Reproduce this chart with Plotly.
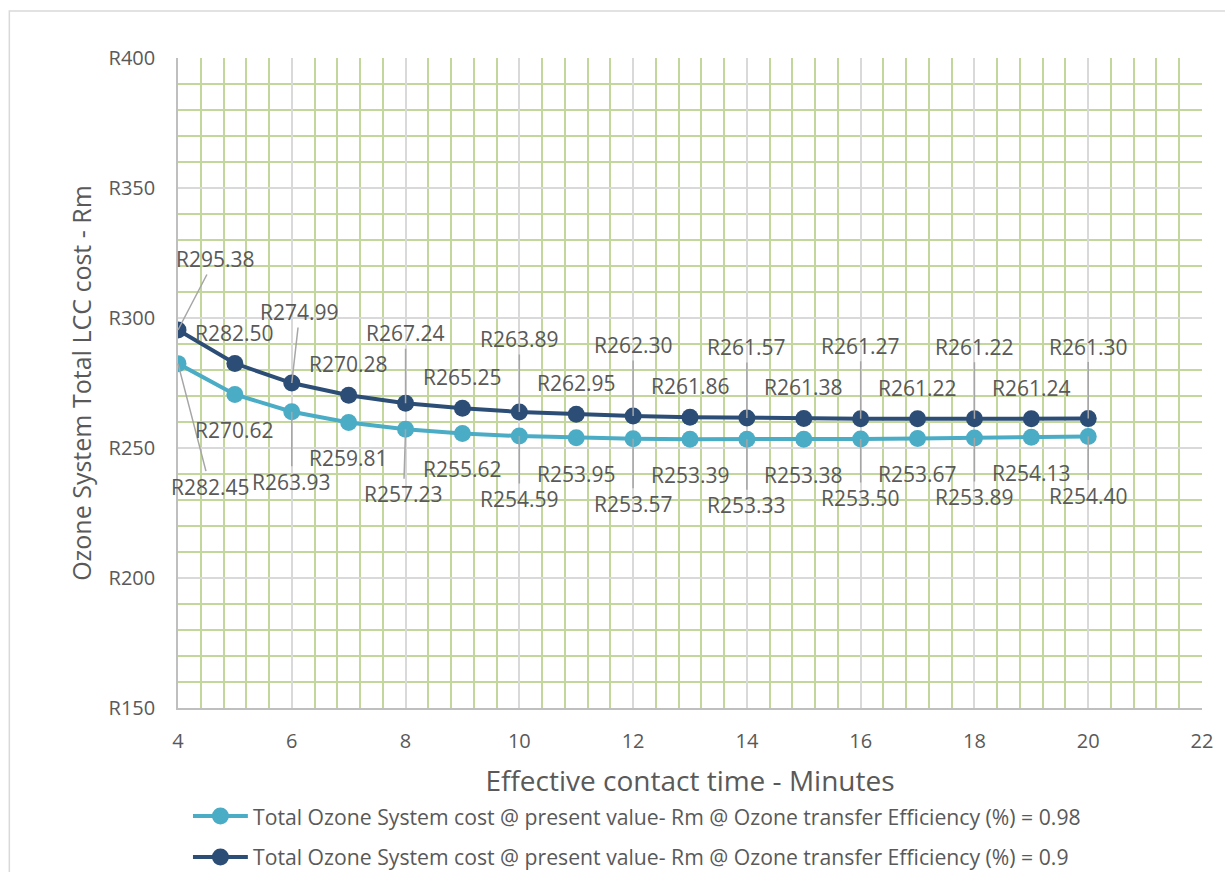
import plotly.graph_objects as go

# Effective contact time (minutes)
contact_time = list(range(4, 21))

# Total ozone system cost @ present value (Rm)
cost_eff_098 = [282.45, 270.62, 263.93, 259.81, 257.23, 255.62, 254.59, 253.95, 253.57,
                253.39, 253.33, 253.38, 253.50, 253.67, 253.89, 254.13, 254.40]
cost_eff_090 = [295.38, 282.50, 274.99, 270.28, 267.24, 265.25, 263.89, 262.95, 262.30,
                261.86, 261.57, 261.38, 261.27, 261.22, 261.22, 261.24, 261.30]

name_098 = "Total Ozone System cost @ present value- Rm @ Ozone transfer Efficiency (%) = 0.98"
name_090 = "Total Ozone System cost @ present value- Rm @ Ozone transfer Efficiency (%) = 0.9"

y_ticks = [150, 200, 250, 300, 350, 400]
x_ticks = [4, 6, 8, 10, 12, 14, 16, 18, 20, 22]

LIGHT = "#4BACC6"
DARK = "#2C4D75"
TEXT = "#595959"
FONT = "Open Sans"

# label placement: leader-line offsets for every other point, plain shifts for the rest
dark_leader = [(37, -71), (8, -71), (0, -70), (0, -73), (0, -71), (0, -71), (0, -73), (0, -72), (0, -72)]
light_leader = [(32, 123), (0, 70), (-2, 65), (0, 63), (0, 65), (0, 66), (0, 59), (0, 59), (0, 59)]
dark_shift = 31
light_shift = -36

L, R, T, B = 178, 21, 58, 164
W, H = 1225, 872
pw, ph = W - L - R, H - T - B


def px_x(p):
    return (p - L) / pw


def px_y(p):
    return (H - B - p) / ph


fig = go.Figure()
fig.add_trace(go.Scatter(x=contact_time, y=cost_eff_098, name=name_098, mode="lines+markers",
                         line=dict(color=LIGHT, width=4), marker=dict(color=LIGHT, size=17)))
fig.add_trace(go.Scatter(x=contact_time, y=cost_eff_090, name=name_090, mode="lines+markers",
                         line=dict(color=DARK, width=4), marker=dict(color=DARK, size=17)))

annotations = []
for series, leader, shift in ((cost_eff_090, dark_leader, dark_shift),
                              (cost_eff_098, light_leader, light_shift)):
    for i, (xv, yv) in enumerate(zip(contact_time, series)):
        text = f"R{yv:.2f}"
        if i % 2 == 0:
            ax, ay = leader[i // 2]
            annotations.append(dict(x=xv, y=yv, text=text, showarrow=True, ax=ax, ay=ay,
                                    arrowhead=0, arrowwidth=1.5, arrowcolor="#A6A6A6",
                                    standoff=0, startstandoff=0,
                                    font=dict(family=FONT, size=21, color=TEXT)))
        else:
            annotations.append(dict(x=xv, y=yv, text=text, showarrow=False, yshift=shift,
                                    font=dict(family=FONT, size=21, color=TEXT)))

# legend drawn below the plot: sample line with a marker, then the series name
shapes = [dict(type="rect", xref="paper", yref="paper",
               x0=px_x(9), x1=px_x(1240), y0=px_y(890), y1=px_y(11),
               line=dict(color="#D9D9D9", width=1.5), layer="below")]
for row_y, color, name in ((816, LIGHT, name_098), (857, DARK, name_090)):
    shapes.append(dict(type="line", xref="paper", yref="paper",
                       x0=px_x(193), x1=px_x(248), y0=px_y(row_y), y1=px_y(row_y),
                       line=dict(color=color, width=4)))
    shapes.append(dict(type="circle", xref="paper", yref="paper",
                       xsizemode="pixel", ysizemode="pixel",
                       xanchor=px_x(220.5), yanchor=px_y(row_y),
                       x0=-8.5, x1=8.5, y0=-8.5, y1=8.5,
                       fillcolor=color, line=dict(color=color, width=0)))
    annotations.append(dict(xref="paper", yref="paper", x=px_x(251), y=px_y(row_y),
                            xanchor="left", yanchor="middle", showarrow=False, text=name,
                            font=dict(family=FONT, size=21.2, color=TEXT)))

fig.update_layout(
    width=W, height=H,
    margin=dict(l=L, r=R, t=T, b=B),
    paper_bgcolor="white", plot_bgcolor="white",
    font=dict(family=FONT, color=TEXT),
    showlegend=False,
    annotations=annotations,
    shapes=shapes,
)

fig.update_xaxes(
    range=[4, 22], tickvals=x_ticks, ticktext=[str(v) for v in x_ticks],
    showgrid=True, gridcolor="#D9D9D9", gridwidth=1.5,
    minor=dict(dtick=0.4, tick0=4, showgrid=True, gridcolor="#C3D69B", gridwidth=1.5),
    showline=True, linecolor="#BFBFBF", linewidth=1.5, mirror=False,
    ticks="", ticklabelstandoff=14, zeroline=False,
    tickfont=dict(family=FONT, size=20, color=TEXT),
    title=dict(text="Effective contact time - Minutes", standoff=19,
               font=dict(family=FONT, size=28, color=TEXT)),
)
fig.update_yaxes(
    range=[150, 400], tickvals=y_ticks, ticktext=[f"R{v}" for v in y_ticks],
    showgrid=True, gridcolor="#D9D9D9", gridwidth=1.5,
    minor=dict(dtick=10, tick0=150, showgrid=True, gridcolor="#C3D69B", gridwidth=1.5),
    showline=True, linecolor="#BFBFBF", linewidth=1.5, mirror=False,
    ticks="", ticklabelstandoff=17, zeroline=False,
    tickfont=dict(family=FONT, size=20, color=TEXT),
    title=dict(text="Ozone System Total LCC cost - Rm", standoff=10,
               font=dict(family=FONT, size=25, color=TEXT)),
)

fig.write_html("out.html")
